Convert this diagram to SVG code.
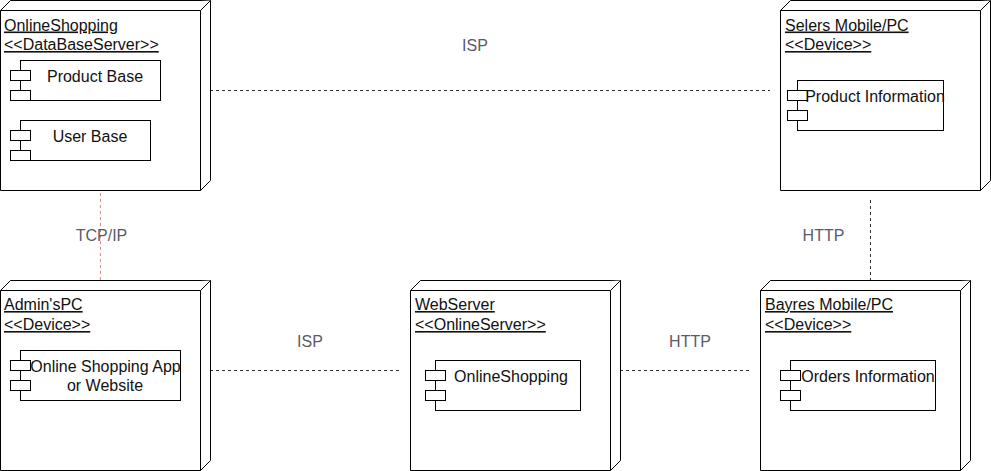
<svg xmlns="http://www.w3.org/2000/svg" width="991" height="471" viewBox="0 0 991 471">
<style>
.nd{fill:#fff;stroke:#000;stroke-width:1}
.cp{fill:#fff;stroke:#000;stroke-width:1}
.t{font-family:"Liberation Sans",Arial,sans-serif;font-size:16px;fill:#111}
.tt{text-decoration:underline}
.c{text-anchor:middle}
.cn{fill:none;stroke:#333;stroke-width:1;stroke-dasharray:3 3}
.lb{font-family:"Liberation Sans",Arial,sans-serif;font-size:16px;fill:#5a5a6b;text-anchor:middle}
</style>
<rect width="991" height="471" fill="#fff"/>
<g id="connectors">
<line class="cn" x1="210" y1="90.5" x2="770" y2="90.5"/>
<line class="cn" x1="100.5" y1="193" x2="100.5" y2="280" style="stroke:#e0907f"/>
<line class="cn" x1="210" y1="370.5" x2="400" y2="370.5"/>
<line class="cn" x1="620" y1="370.5" x2="750" y2="370.5"/>
<line class="cn" x1="870.5" y1="200" x2="870.5" y2="280"/>
<text class="lb" x="475" y="51">ISP</text>
<text class="lb" x="101.5" y="241">TCP/IP</text>
<text class="lb" x="310" y="346.5">ISP</text>
<text class="lb" x="690" y="346.5">HTTP</text>
<text class="lb" x="823.5" y="241">HTTP</text>
</g>
<g id="node-db">
<path class="nd" d="M0.5 10.5 L10.5 0.5 L210.5 0.5 L210.5 180.5 L200.5 190.5 L0.5 190.5 Z"/>
<path class="nd" d="M0.5 10.5 L200.5 10.5 L210.5 0.5 M200.5 10.5 L200.5 190.5"/>
<text class="t tt" x="4" y="30.5">OnlineShopping</text>
<text class="t tt" x="4" y="50">&lt;&lt;DataBaseServer&gt;&gt;</text>
<g id="comp-product-base">
<rect class="cp" x="20.5" y="60.5" width="140" height="40"/>
<rect class="cp" x="10.5" y="70.5" width="20" height="10"/>
<rect class="cp" x="10.5" y="90.5" width="20" height="10"/>
<text class="t c" x="95" y="82">Product Base</text>
</g>
<g id="comp-user-base">
<rect class="cp" x="20.5" y="120.5" width="130" height="40"/>
<rect class="cp" x="10.5" y="130.5" width="20" height="10"/>
<rect class="cp" x="10.5" y="150.5" width="20" height="10"/>
<text class="t c" x="90" y="142">User Base</text>
</g>
</g>
<g id="node-selers">
<path class="nd" d="M780.5 10.5 L790.5 0.5 L990.5 0.5 L990.5 180.5 L980.5 190.5 L780.5 190.5 Z"/>
<path class="nd" d="M780.5 10.5 L980.5 10.5 L990.5 0.5 M980.5 10.5 L980.5 190.5"/>
<text class="t tt" x="785" y="30.5">Selers Mobile/PC</text>
<text class="t tt" x="785" y="50">&lt;&lt;Device&gt;&gt;</text>
<rect class="cp" x="797.5" y="80.5" width="146" height="50"/>
<rect class="cp" x="787.5" y="90.5" width="20" height="10"/>
<rect class="cp" x="787.5" y="110.5" width="20" height="10"/>
<text class="t c" x="875" y="102">Product Information</text>
</g>
<g id="node-admin">
<path class="nd" d="M0.5 290.5 L10.5 280.5 L210.5 280.5 L210.5 460.5 L200.5 470.5 L0.5 470.5 Z"/>
<path class="nd" d="M0.5 290.5 L200.5 290.5 L210.5 280.5 M200.5 290.5 L200.5 470.5"/>
<text class="t tt" x="4" y="310">Admin'sPC</text>
<text class="t tt" x="4" y="330">&lt;&lt;Device&gt;&gt;</text>
<rect class="cp" x="20.5" y="350.5" width="160" height="50"/>
<rect class="cp" x="10.5" y="360.5" width="20" height="10"/>
<rect class="cp" x="10.5" y="380.5" width="20" height="10"/>
<text class="t c" x="105.5" y="372">Online Shopping App</text>
<text class="t c" x="105" y="390.5">or Website</text>
</g>
<g id="node-webserver">
<path class="nd" d="M410.5 290.5 L420.5 280.5 L620.5 280.5 L620.5 460.5 L610.5 470.5 L410.5 470.5 Z"/>
<path class="nd" d="M410.5 290.5 L610.5 290.5 L620.5 280.5 M610.5 290.5 L610.5 470.5"/>
<text class="t tt" x="415" y="310">WebServer</text>
<text class="t tt" x="415" y="330">&lt;&lt;OnlineServer&gt;&gt;</text>
<rect class="cp" x="435.5" y="360.5" width="145" height="50"/>
<rect class="cp" x="425.5" y="370.5" width="20" height="10"/>
<rect class="cp" x="425.5" y="390.5" width="20" height="10"/>
<text class="t c" x="511" y="382">OnlineShopping</text>
</g>
<g id="node-bayres">
<path class="nd" d="M760.5 290.5 L770.5 280.5 L970.5 280.5 L970.5 460.5 L960.5 470.5 L760.5 470.5 Z"/>
<path class="nd" d="M760.5 290.5 L960.5 290.5 L970.5 280.5 M960.5 290.5 L960.5 470.5"/>
<text class="t tt" x="765" y="310">Bayres Mobile/PC</text>
<text class="t tt" x="765" y="330">&lt;&lt;Device&gt;&gt;</text>
<rect class="cp" x="790.5" y="360.5" width="145" height="50"/>
<rect class="cp" x="780.5" y="370.5" width="20" height="10"/>
<rect class="cp" x="780.5" y="390.5" width="20" height="10"/>
<text class="t c" x="868" y="382">Orders Information</text>
</g>
</svg>
